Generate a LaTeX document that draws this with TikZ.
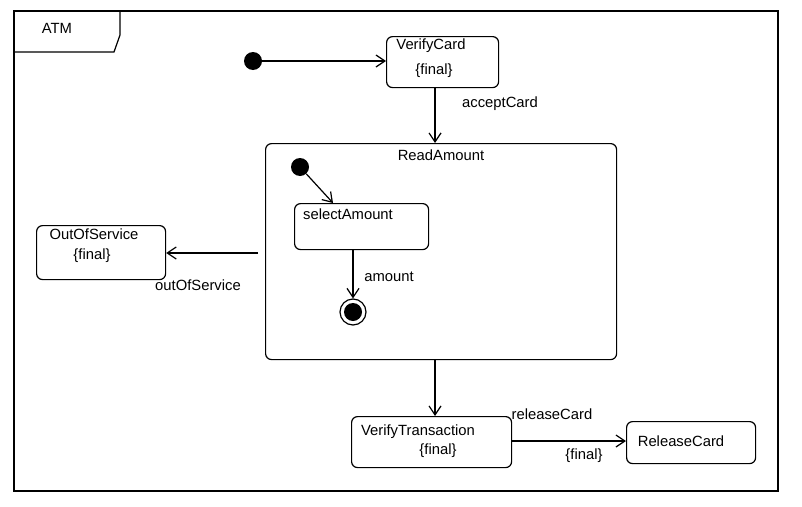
\documentclass[tikz,border=0pt]{standalone}
\usepackage{fontspec}
\setmainfont{Liberation Sans}
\usetikzlibrary{arrows.meta}
\begin{document}
\begin{tikzpicture}[x=1pt,y=-1pt,
  every node/.style={font=\fontsize{14.8}{17}\selectfont, inner sep=0pt},
  statebox/.style={draw, line width=1.2pt, rounded corners=6pt, anchor=north west},
  lbl/.style={anchor=center},
  initdot/.style={circle, fill=black, minimum size=18pt},
  trans/.style={draw, line width=1.2pt, -{Straight Barb[length=9pt,width=12pt,line width=1.2pt]}}]
\useasboundingbox (0,0) rectangle (802,506);
\fill[white] (0,0) rectangle (802,506);
% frame
\draw[line width=1.2pt] (14,11) rectangle (778,491);
\draw[line width=1.2pt] (14,52) -- (114,52) -- (120,35) -- (120,11);
\node[lbl] (atm) at (57,28) {ATM};
% VerifyCard
\node[statebox, minimum width=112pt, minimum height=51pt] (vc) at (386,36) {};
\node[lbl] (vct) at (431,46) {VerifyCard};
\node[lbl] (vcf) at (434,71) {\{final\}};
\node[initdot] (i1) at (253,61) {};
\draw[trans] (i1) -- (vc.west|-i1);
% ReadAmount
\node[statebox, minimum width=351pt, minimum height=216pt] (ra) at (265,143) {};
\node[lbl] (rat) at (441,155) {ReadAmount};
\draw[trans] (vc.south-|435,0) -- (ra.north-|435,0);
\node[lbl] (ac) at (500,104) {acceptCard};
% inner
\node[initdot] (i2) at (300,167) {};
\node[statebox, minimum width=134pt, minimum height=46pt] (sa) at (294,203) {};
\node[lbl] (sat) at (348,214) {selectAmount};
\draw[trans] (i2) -- (333,203);
\node[circle, draw, line width=1.2pt, minimum size=26pt] (fin) at (353,312) {};
\node[circle, fill=black, minimum size=18pt] (finin) at (fin) {};
\draw[trans] (sa.south-|353,0) -- (fin.north);
\node[lbl] (am) at (389,277) {amount};
% OutOfService
\node[statebox, minimum width=129pt, minimum height=54pt] (oos) at (36,225) {};
\node[lbl] (oost) at (94,234) {OutOfService};
\node[lbl] (oosf) at (92,256) {\{final\}};
\coordinate (oosstart) at (258,253);
\draw[trans] (oosstart) -- (oos.east|-oosstart);
\node[lbl] (oosl) at (198,285) {outOfService};
% VerifyTransaction
\node[statebox, minimum width=160pt, minimum height=51pt] (vt) at (351,416) {};
\node[lbl] (vtt) at (418,432) {VerifyTransaction};
\node[lbl] (vtf) at (438,451) {\{final\}};
\draw[trans] (ra.south-|435,0) -- (vt.north-|435,0);
% ReleaseCard
\node[statebox, minimum width=129pt, minimum height=42pt] (rc) at (626,421) {};
\node[lbl] (rct) at (681,441) {ReleaseCard};
\draw[trans] (vt.east|-0,441) -- (rc.west|-0,441);
\node[lbl] (rcl) at (552,414) {releaseCard};
\node[lbl] (rcf) at (584,456) {\{final\}};
\end{tikzpicture}
\end{document}
